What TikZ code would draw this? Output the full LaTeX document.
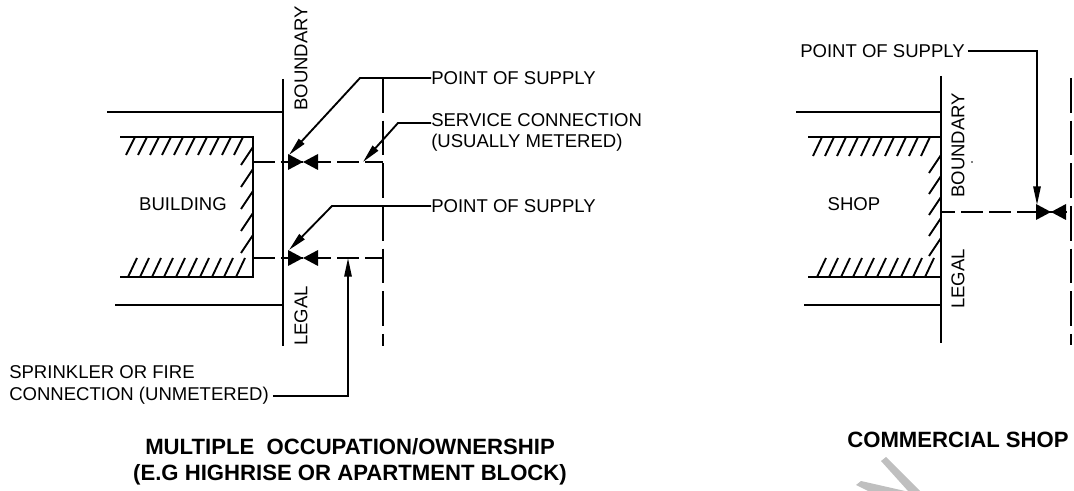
\documentclass[tikz,border=0pt]{standalone}
\usepackage{fontspec}
\setmainfont{Liberation Sans}
\usetikzlibrary{arrows.meta}

\begin{document}
\begin{tikzpicture}[
    x=0.75pt, y=-0.75pt,
    >={Triangle[length=14pt,width=5.5pt]},
    wall/.style={line width=1.4pt},
    hatch/.style={line width=1.4pt},
    lead/.style={line width=1.4pt, ->},
    pipe/.style={line width=1.4pt, dash pattern=on 16.5pt off 4.5pt},
    meter/.style={line width=1.4pt, dash pattern=on 26pt off 6pt},
    label/.style={inner sep=0pt, anchor=west, font=\fontsize{13.9}{16}\selectfont},
    sidelabel/.style={inner sep=0pt, rotate=90, anchor=west, font=\fontsize{13.9}{16}\selectfont},
    heading/.style={inner sep=0pt, align=center, font=\fontsize{16.6}{19.5}\selectfont\bfseries},
    valve/.pic={\fill (-15,-8) -- (15,8) -- (15,-8) -- (-15,8) -- cycle;},
  ]
    \useasboundingbox (0,0) rectangle (1074,491);
    % watermark
    \fill[black!25] (881,461) -- (886,457) -- (920,491) -- (908,491) -- cycle;
    \fill[black!25] (856,485) -- (861,481) -- (905,491) -- (868,491) -- cycle;

    % multiple occupation
    \coordinate (bndA) at (283,79);
    \coordinate (bndB) at (283,346);
    \coordinate (meterA) at (383,78);
    \coordinate (meterB) at (383,346);
    \coordinate (valveA) at (303,162);
    \coordinate (valveB) at (303,258);
    \coordinate (tipA) at (289,155);
    \coordinate (tipB) at (289,250);
    \draw[wall] (bndA) -- (bndB);
    \draw[wall] (107,112) -- (283,112);
    \draw[wall] (115,305) -- (283,305);
    \draw[wall] (120,137) -- (253,137) -- (253,277) -- (120,277);
    \foreach \x in {135,147,...,243} \draw[hatch] (\x,137) -- (\x-9,155);
    \foreach \x in {137,149,...,250} \draw[hatch] (\x,258) -- (\x-9,277);
    \foreach \y in {147,169,191,213,235} \draw[hatch] (253,\y) -- (241,\y+18);
    \draw[meter] (meterA) -- (meterB);
    \draw[pipe] (253,162) -- (383,162);
    \draw[pipe] (253,258) -- (383,258);
    \pic at (valveA) {valve};
    \pic at (valveB) {valve};

    \node[label] (supplyA) at (431,78) {POINT OF SUPPLY};
    \node[label, align=left, font=\fontsize{13.9}{15.8}\selectfont] (service) at (431,132.5) {SERVICE CONNECTION\\(USUALLY METERED)};
    \node[label] (supplyB) at (431,206) {POINT OF SUPPLY};
    \node[label, align=left, font=\fontsize{13.9}{17}\selectfont] (sprinkler) at (9,385) {SPRINKLER OR FIRE\\CONNECTION (UNMETERED)};
    \node[inner sep=0pt, font=\fontsize{13.9}{16}\selectfont] (building) at (183,204) {BUILDING};
    \node[sidelabel] (bndtxtA) at (301,111) {BOUNDARY};
    \node[sidelabel] (legaltxtA) at (301,346) {LEGAL};
    \node[heading] (titleA) at (350,462) {MULTIPLE\ \ OCCUPATION/OWNERSHIP\\(E.G HIGHRISE OR APARTMENT BLOCK)};

    \coordinate (bendA) at (360,78);
    \coordinate (bendB) at (332,206);
    \coordinate (bendS) at (398,123);
    \coordinate (tipS) at (363,162);
    \coordinate (bendF) at (348,396);
    \coordinate (tipF) at (348,258);
    \draw[lead] (supplyA.west) -- (bendA) -- (tipA);
    \draw[lead] (supplyB.west) -- (bendB) -- (tipB);
    \draw[lead] (service.west |- bendS) -- (bendS) -- (tipS);
    \draw[lead] ([xshift=3pt]sprinkler.east |- bendF) -- (bendF) -- (tipF);

    % commercial shop
    \coordinate (bndC) at (941,76);
    \coordinate (bndD) at (941,343);
    \coordinate (meterC) at (1071,78);
    \coordinate (meterD) at (1071,345);
    \coordinate (valveC) at (1051,212);
    \draw[wall] (bndC) -- (bndD);
    \draw[wall] (796,112) -- (941,112);
    \draw[wall] (804,305) -- (941,305);
    \draw[wall] (808,137) -- (941,137);
    \draw[wall] (808,277) -- (941,277);
    \foreach \x in {822,834,...,931} \draw[hatch] (\x,137) -- (\x-9,156);
    \foreach \x in {826,838,...,939} \draw[hatch] (\x,258) -- (\x-9,277);
    \foreach \y in {155,176,197,218,238} \draw[hatch] (941,\y) -- (929,\y+18);
    \draw[meter] (meterC) -- (meterD);
    \draw[pipe, dash phase=6pt] (941,212) -- (1071,212);
    \pic at (valveC) {valve};

    \node[label] (supplyC) at (800,51) {POINT OF SUPPLY};
    \node[inner sep=0pt, font=\fontsize{13.9}{16}\selectfont] (shop) at (854,204) {SHOP};
    \node[sidelabel] (bndtxtC) at (958,198) {BOUNDARY};
    \node[sidelabel] (legaltxtC) at (958,309) {LEGAL};
    \node[heading] (titleC) at (958,440) {COMMERCIAL SHOP};
    \fill (972,162) circle (0.8);

    \coordinate (bendC) at (1037,51);
    \coordinate (tipC) at (1037,205);
    \draw[lead] ([xshift=2pt]supplyC.east) -- (bendC) -- (tipC);
  \end{tikzpicture}
\end{document}
